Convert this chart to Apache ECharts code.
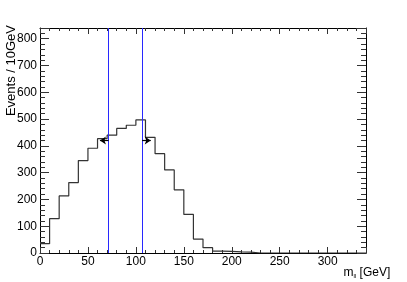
<!DOCTYPE html>
<html>
<head>
<meta charset="utf-8">
<script src="https://cdn.jsdelivr.net/npm/echarts@6/dist/echarts.min.js"></script>
<style>
  html, body { margin: 0; padding: 0; background: #fff; }
  #main { width: 407px; height: 282px; }
</style>
</head>
<body>
<div id="main"></div>
<script>
// bin low edges (GeV) and contents per 10 GeV bin
const binEdges = [0, 10, 20, 30, 40, 50, 60, 70, 80, 90, 100, 110, 120, 130, 140, 150, 160, 170, 180, 190, 200, 210, 220, 230, 240, 250, 260, 270, 280, 290, 300, 310, 320, 330, 340];
const binCounts = [35, 128, 213, 263, 345, 391, 427, 440, 465, 477, 497, 432, 371, 310, 236, 144, 52, 20, 7, 6, 4, 3, 0, 0, 0, 0, 0, 0, 0, 0, 0, 0, 0, 0, 0];
// mass window cuts and arrows
const cutValues = [71.5, 106.5];
const arrowY = 420;
const arrowLen = 9;
const yTitle = 'Events / 10GeV';

let histData = []
for (let i = 0; i < binEdges.length; i++) {
  histData.push([binEdges[i], binCounts[i]])
}

const font = 'Liberation Sans, Arial, Helvetica, sans-serif';

function xAxisCfg(pos, showLabel) {
  return {
    type: 'value', position: pos, min: 0, max: 340, interval: 50,
    axisLine: { show: true, onZero: false, lineStyle: { color: '#000', width: 1 } },
    axisTick: { show: true, inside: true, length: 6, lineStyle: { color: '#333' } },
    minorTick: { show: true, splitNumber: 5, length: 3, lineStyle: { color: '#333' } },
    splitLine: { show: false },
    axisLabel: {
      show: showLabel, color: '#000', fontSize: 12, fontFamily: font, margin: 3,
      showMaxLabel: false
    }
  }
}
function yAxisCfg(pos, showLabel) {
  return {
    type: 'value', position: pos, min: 0, max: 840, interval: 100,
    axisLine: { show: true, onZero: false, lineStyle: { color: '#000', width: 1 } },
    axisTick: { show: true, inside: true, length: 9, lineStyle: { color: '#333' } },
    minorTick: { show: true, splitNumber: 5, length: 5, lineStyle: { color: '#333' } },
    splitLine: { show: false },
    axisLabel: {
      show: showLabel, color: '#000', fontSize: 12, fontFamily: font, margin: 3,
      showMaxLabel: false
    }
  }
}

let bottomX = xAxisCfg('bottom', true)
bottomX.name = 'm{sub|ll} [GeV]'
bottomX.nameLocation = 'end'
bottomX.nameGap = 0
bottomX.nameTextStyle = {
  color: '#000', fontSize: 12, fontFamily: font, align: 'right', verticalAlign: 'top',
  padding: [14, 0, 0, 0],
  rich: { sub: { fontSize: 6, fontFamily: font, color: '#000', verticalAlign: 'bottom', padding: [6, 0, 0, 0] } }
}

const option = {
  animation: false,
  backgroundColor: '#fff',
  grid: { left: 40, right: 41, top: 28, bottom: 29, containLabel: false, outerBoundsMode: 'none' },
  xAxis: [bottomX, xAxisCfg('top', false)],
  yAxis: [yAxisCfg('left', true), yAxisCfg('right', false)],
  graphic: [
    {
      type: 'text',
      x: 11, y: 25,
      rotation: Math.PI / 2,
      style: {
        text: yTitle, fill: '#000', fontSize: 13, fontFamily: font,
        align: 'right', verticalAlign: 'middle'
      }
    }
  ],
  series: [
    {
      type: 'line',
      step: 'end',
      data: histData,
      showSymbol: false,
      lineStyle: { color: '#333', width: 1.2 },
      z: 3,
      markLine: {
        silent: true,
        animation: false,
        symbol: ['none', 'none'],
        label: { show: false },
        data: [
          { xAxis: cutValues[0], lineStyle: { color: '#2828ff', width: 1, type: 'solid' } },
          { xAxis: cutValues[1], lineStyle: { color: '#2828ff', width: 1, type: 'solid' } },
          [
            { coord: [cutValues[0], arrowY], symbol: 'none', lineStyle: { color: '#000', width: 1.2, type: 'solid' } },
            { coord: [cutValues[0] - arrowLen, arrowY], symbol: 'arrow', symbolSize: [6, 6] }
          ],
          [
            { coord: [cutValues[1], arrowY], symbol: 'none', lineStyle: { color: '#000', width: 1.2, type: 'solid' } },
            { coord: [cutValues[1] + arrowLen, arrowY], symbol: 'arrow', symbolSize: [6, 6] }
          ]
        ]
      }
    }
  ]
};

let myChart = echarts.init(document.getElementById('main'), null, { renderer: 'canvas' })
myChart.setOption(option)
</script>
</body>
</html>
